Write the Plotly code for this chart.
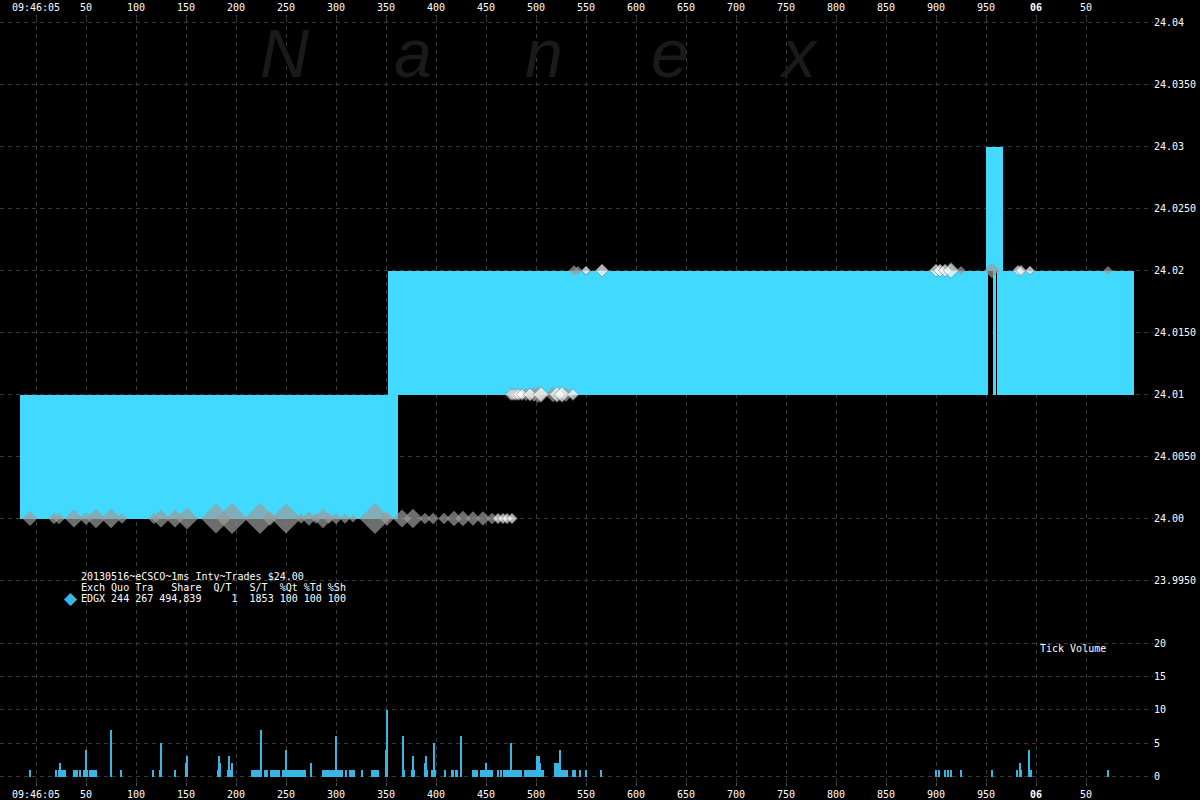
import plotly.graph_objects as go

# ---------------- data (time in ms after 09:46:05.000) ----------------
# quote spread segments (bid/ask shading)
seg_start = [-16, 352, 950, 957, 961]
seg_end = [362, 952, 967, 960, 1098]
seg_bid = [24.00, 24.01, 24.02, 24.01, 24.01]
seg_ask = [24.01, 24.02, 24.03, 24.02, 24.02]

# trades drawn as grey diamonds
grey_ms = [-6, 18, 23, 38, 50, 60, 75, 86, 118, 125, 139, 151, 180, 196, 224, 234, 250,
           265, 273, 280, 287, 293, 300, 309, 317, 339, 351, 366, 377, 389, 397, 408, 418,
           427, 437, 447, 456,
           490, 498, 502, 517, 530,
           538, 542, 925, 956, 1072]
grey_px = [24.00] * 37 + [24.01] * 5 + [24.02] * 5
grey_sz = [11.5, 9, 9, 14, 10, 15, 15, 8, 9, 14, 14, 17, 23, 24, 24, 11, 23,
           8, 11, 8, 15, 8, 9, 8, 6, 24, 11, 14, 15, 9, 9, 9, 12,
           12, 11, 11, 9,
           10, 11, 13, 12, 11,
           8, 7, 7, 12, 7]

# trades drawn as white diamonds
white_ms = [462, 467, 471, 476,
            475, 477, 479, 481, 483, 486, 494, 505, 521, 526, 537,
            550, 566, 900, 904, 909, 915, 982, 985, 994]
white_px = [24.00] * 4 + [24.01] * 11 + [24.02] * 9
white_sz = [8, 8, 8, 8,
            9, 9, 9, 9, 9, 9, 10, 12, 12, 12, 9,
            7, 10, 10, 10, 10, 12, 8, 8, 7]

# tick volume per ms
vol_ms = [-6, 20, 23, 24, 25, 26, 27, 28, 29,
          38, 39, 40, 41, 44, 48, 50, 51,
          54, 56, 58, 59, 60, 75, 85, 117,
          124, 125, 139, 150, 151, 182, 183, 184,
          192, 193, 195, 196,
          216, 218, 220, 222, 224, 225, 229, 231,
          235, 237, 239, 241, 243,
          247, 249, 250, 251, 253, 255, 257, 259, 261, 263,
          265, 267, 269, 275,
          287, 289, 291, 293, 295, 297, 299, 300,
          301, 302, 303, 304, 305, 306,
          310, 314, 316, 318, 326,
          336, 337, 338, 339, 340, 341, 342,
          350, 351, 367, 368, 376, 377, 378,
          389, 390, 391, 396, 397, 398, 399, 409,
          416, 417, 420, 421, 425,
          437, 439, 441, 445, 447,
          449, 450, 451, 452, 453, 454, 455, 456,
          462, 465, 468, 469, 470, 471, 472, 473, 475,
          477, 479, 481, 483, 485,
          489, 491, 493, 495, 497, 499,
          501, 502, 503, 504, 505, 506, 507,
          519, 520, 521, 522, 524, 525, 527, 529, 531,
          537, 539, 544, 550, 565,
          900, 903, 909, 912, 915, 925, 956,
          981, 984, 985, 993, 995, 1072]
vol_n = [1, 1, 1, 2, 1, 1, 1, 1, 1,
         1, 1, 1, 1, 1, 1, 4, 1,
         1, 1, 1, 1, 1, 7, 1, 1,
         1, 5, 1, 2, 3, 1, 3, 2,
         1, 3, 1, 2,
         1, 1, 1, 1, 1, 7, 1, 1,
         1, 1, 1, 1, 1,
         1, 1, 4, 1, 1, 1, 1, 1, 1, 1,
         1, 1, 1, 2,
         1, 1, 1, 1, 1, 1, 1, 6,
         1, 1, 1, 1, 1, 1,
         1, 1, 1, 1, 1,
         1, 1, 1, 1, 1, 1, 1,
         4, 10, 6, 1, 1, 3, 1,
         2, 3, 1, 1, 1, 5, 1, 1,
         1, 1, 1, 1, 6,
         1, 1, 1, 1, 1,
         1, 2, 1, 1, 1, 1, 1, 1,
         1, 1, 1, 1, 1, 1, 1, 1, 5,
         1, 1, 1, 1, 1,
         1, 1, 1, 1, 1, 1,
         3, 1, 3, 2, 1, 1, 1,
         2, 2, 2, 2, 4, 1, 1, 1, 1,
         1, 1, 1, 1, 1,
         1, 1, 1, 1, 1, 1, 1,
         1, 2, 1, 4, 1, 1]

# axis ticks
x_tickvals = list(range(0, 1051, 50))
x_ticktext = ["09:46:05"] + [str(v) for v in range(50, 1000, 50)] + ["<b>06</b>", "50"]
price_tickvals = [23.995, 24.00, 24.005, 24.01, 24.015, 24.02, 24.025, 24.03, 24.035, 24.04]
price_ticktext = ["23.9950", "24.00", "24.0050", "24.01", "24.0150", "24.02",
                  "24.0250", "24.03", "24.0350", "24.04"]
vol_tickvals = [0, 5, 10, 15, 20]

legend_lines = ["20130516~eCSCO~1ms Intv~Trades $24.00",
                "Exch Quo Tra   Share  Q/T   S/T  %Qt %Td %Sh",
                "EDGX 244 267 494,839     1  1853 100 100 100"]

# ---------------- figure ----------------
W, H = 1200, 800
ML, MR, MT, MB = 0, 47, 18, 18
PW, PH = W - ML - MR, H - MT - MB

def px(xp):
    return (xp - ML) / PW

def py(yp):
    return (H - MB - yp) / PH

MONO = "DejaVu Sans Mono"
BLUE = "#42D9FF"
VBLUE = "#37B5E5"
GREY = "#9B9B9B"

fig = go.Figure()

# spread shading
fig.add_trace(go.Bar(
    x=[(s + e) / 2 for s, e in zip(seg_start, seg_end)],
    width=[e - s for s, e in zip(seg_start, seg_end)],
    base=seg_bid,
    y=[a - b for a, b in zip(seg_ask, seg_bid)],
    marker=dict(color=BLUE, line=dict(width=0)),
    xaxis="x", yaxis="y", showlegend=False, hoverinfo="skip"))

# trades
fig.add_trace(go.Scatter(
    x=grey_ms, y=grey_px, mode="markers",
    marker=dict(symbol="diamond", size=grey_sz, color=GREY, line=dict(width=0)),
    xaxis="x", yaxis="y", showlegend=False))
fig.add_trace(go.Scatter(
    x=white_ms, y=white_px, mode="markers",
    marker=dict(symbol="diamond", size=white_sz, color="#FFFFFF",
                line=dict(width=1, color="#8A8A8A")),
    xaxis="x", yaxis="y", showlegend=False))

# tick volume
fig.add_trace(go.Bar(
    x=vol_ms, y=vol_n, width=[0.9] * len(vol_ms),
    marker=dict(color=VBLUE, line=dict(width=0)),
    xaxis="x", yaxis="y2", showlegend=False))

# invisible trace for top axis
fig.add_trace(go.Scatter(x=[0], y=[24.0], mode="markers", marker=dict(opacity=0),
                         xaxis="x2", yaxis="y", showlegend=False, hoverinfo="skip"))

# pixel -> data ranges
x_lo = -36
x_hi = x_lo + PW
p_per = 12400.0  # px per $1
y_px_2400 = 518.5
p_lo = 24.00 - (H - MB - y_px_2400) / p_per
p_hi = 24.00 + (y_px_2400 - MT) / p_per
v_per = 6.675
y_px_v0 = 776.5
v_lo = -(H - MB - y_px_v0) / v_per
v_hi = (y_px_v0 - MT) / v_per

grid = dict(showgrid=True, gridcolor="#383838", gridwidth=1, griddash="4px,4px")
tickfont = dict(family=MONO, size=10, color="#FFFFFF")

fig.update_layout(
    width=W, height=H,
    margin=dict(l=ML, r=MR, t=MT, b=MB, pad=0, autoexpand=False),
    paper_bgcolor="#000000", plot_bgcolor="#000000",
    barmode="overlay", bargap=0,
    showlegend=False,
    xaxis=dict(range=[x_lo, x_hi], tickvals=x_tickvals, ticktext=x_ticktext,
               tickfont=tickfont, zeroline=False, showline=False, automargin=False,
               ticks="outside", ticklen=3, tickcolor="#555555", **grid),
    xaxis2=dict(range=[x_lo, x_hi], overlaying="x", side="top", matches="x",
                tickvals=x_tickvals, ticktext=x_ticktext, tickfont=tickfont,
                showgrid=False, zeroline=False, showline=False, automargin=False,
                ticks="outside", ticklen=2, tickcolor="#555555"),
    yaxis=dict(range=[p_lo, p_hi], side="right", tickvals=price_tickvals,
               ticktext=price_ticktext, tickfont=tickfont, zeroline=False,
               showline=False, ticks="", automargin=False, **grid),
    yaxis2=dict(range=[v_lo, v_hi], side="right", overlaying="y",
                tickvals=vol_tickvals, tickfont=tickfont, zeroline=False,
                showline=False, ticks="", automargin=False, **grid),
)

annotations = []
# watermark
for letter, xc in zip(["N", "a", "n", "e", "x"], [285, 413, 544, 670, 798]):
    annotations.append(dict(
        text=letter, x=px(xc), y=py(53), xref="paper", yref="paper",
        xanchor="center", yanchor="middle", showarrow=False,
        font=dict(family="Liberation Sans", size=68, color="#1A1A1A", style="italic")))

# text legend
for line, yc in zip(legend_lines, [576, 587.5, 598]):
    annotations.append(dict(
        text=line.replace(" ", "\u00a0"), x=px(79), y=py(yc), xref="paper", yref="paper",
        xanchor="left", yanchor="middle", showarrow=False,
        font=dict(family=MONO, size=10, color="#FFFFFF")))
annotations.append(dict(
    text="\u25C6", x=px(71), y=py(598), xref="paper", yref="paper",
    xanchor="center", yanchor="middle", showarrow=False,
    font=dict(family="DejaVu Sans", size=17, color="#3BB7E6")))
annotations.append(dict(
    text="Tick\u00a0Volume", x=px(1038), y=py(648), xref="paper", yref="paper",
    xanchor="left", yanchor="middle", showarrow=False,
    font=dict(family=MONO, size=10, color="#FFFFFF")))

fig.update_layout(annotations=annotations)

fig.write_html(
    "out.html",
    config={"displayModeBar": False},
    post_script="document.body.style.margin='0';document.body.style.background='#000';"
                "document.body.style.overflow='hidden';",
)
